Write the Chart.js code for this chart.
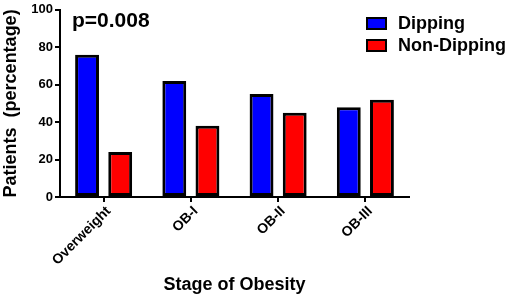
<!DOCTYPE html>
<html lang="en">
<head>
    <meta charset="UTF-8" />
    <title>Stage of Obesity</title>
    <script src="https://cdn.jsdelivr.net/npm/chart.js"></script>
    <style>
        body { margin: 0; background: #fff; }
        .wrap { position: relative; width: 510px; height: 302px; font-family: "Liberation Sans", Arial, sans-serif; }
        .pval { position: absolute; left: 72px; top: 9px; font-size: 21px; font-weight: bold; line-height: 1; }
        .legenda { position: absolute; left: 366px; top: 12px; }
        .item { display: flex; align-items: center; height: 22px; font-size: 18px; font-weight: bold; line-height: 1; }
        .caixa { width: 17px; height: 9px; border: 2px solid #000; margin-right: 11px; }
    </style>
</head>
<body>
    <div class="wrap">
        <canvas id="grafico"></canvas>
        <div class="pval" id="pval"></div>
        <div class="legenda" id="legenda"></div>
    </div>

    <script>
        const categorias = ['Overweight', 'OB-I', 'OB-II', 'OB-III'];
        const dipping = [76, 62, 55, 48];
        const naoDipping = [24, 38, 45, 52];
        const ticksY = [0, 20, 40, 60, 80, 100];
        const pTexto = 'p=0.008';

        Chart.defaults.font.family = '"Liberation Sans", Arial, sans-serif';
        Chart.defaults.color = '#000';

        const series = [
            { label: 'Dipping', data: dipping, cor: '#0000FF' },
            { label: 'Non-Dipping', data: naoDipping, cor: '#FF0000' }
        ];

        const ctx = document.getElementById('grafico').getContext('2d');
        const grafico = new Chart(ctx, {
            type: 'bar',
            data: {
                labels: categorias,
                datasets: series.map(s => ({
                    label: s.label,
                    data: s.data,
                    backgroundColor: s.cor,
                    borderColor: '#000',
                    borderWidth: 3,
                    borderSkipped: false,
                    categoryPercentage: 0.76,
                    barPercentage: 0.72
                }))
            },
            options: {
                responsive: true,
                maintainAspectRatio: false,
                animation: false,
                layout: { padding: { top: 8, right: 101, left: 0, bottom: 0 } },
                plugins: {
                    legend: { display: false },
                    tooltip: { enabled: false }
                },
                scales: {
                    x: {
                        grid: { display: true, drawOnChartArea: false, offset: false, color: '#000', lineWidth: 2, tickLength: 5 },
                        border: { color: '#000', width: 2 },
                        ticks: { maxRotation: 45, minRotation: 45, font: { size: 14, weight: 'bold' }, padding: 1, labelOffset: 5 },
                        title: { display: true, text: 'Stage of Obesity', font: { size: 18, weight: 'bold' }, padding: { top: 0, bottom: 6 } },
                        afterFit(scale) { scale.height = 105; }
                    },
                    y: {
                        min: 0,
                        max: 100,
                        afterBuildTicks(scale) { scale.ticks = ticksY.map(v => ({ value: v })); },
                        grid: { display: true, drawOnChartArea: false, color: '#000', lineWidth: 2, tickLength: 5 },
                        border: { color: '#000', width: 2 },
                        ticks: { font: { size: 13, weight: 'bold' }, padding: 2 },
                        title: { display: true, text: 'Patients  (percentage)', font: { size: 18, weight: 'bold' }, padding: { top: 0, bottom: 6 } },
                        afterFit(scale) { scale.width = 60; }
                    }
                }
            }
        });

        document.getElementById('pval').textContent = pTexto;

        const legenda = document.getElementById('legenda');
        series.forEach(s => {
            const item = document.createElement('div');
            item.className = 'item';
            const caixa = document.createElement('span');
            caixa.className = 'caixa';
            caixa.style.background = s.cor;
            item.appendChild(caixa);
            item.appendChild(document.createTextNode(s.label));
            legenda.appendChild(item);
        });
    </script>
</body>
</html>
